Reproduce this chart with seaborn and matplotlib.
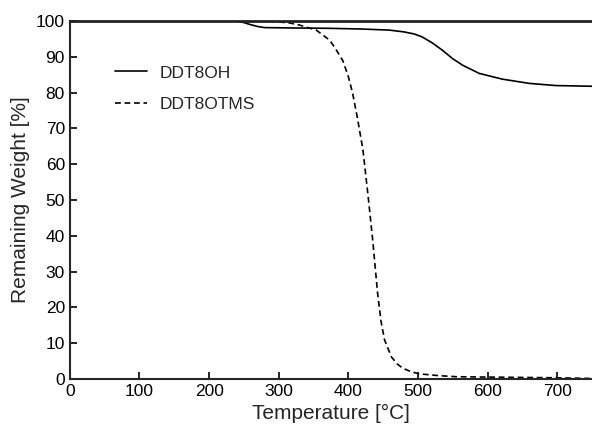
import pandas as pd
import seaborn as sns
import matplotlib.pyplot as plt

# TGA curves
temp_oh = [0, 240, 250, 260, 270, 280, 320, 373, 420, 459, 480, 495, 506, 520,
           535, 550, 564, 588, 621, 660, 698, 750]
weight_oh = [100, 100, 99.6, 99.0, 98.5, 98.2, 98.1, 98.0, 97.8, 97.5, 97.0, 96.4,
             95.6, 94.0, 91.9, 89.5, 87.7, 85.4, 83.8, 82.6, 82.0, 81.8]

temp_otms = [0, 287, 316, 330, 354, 373, 380, 392, 400, 406, 413, 421, 429, 435,
             442, 447, 452, 462, 470, 478, 490, 502, 530, 555, 600, 650, 700, 750]
weight_otms = [100, 100, 99.5, 98.9, 97.5, 94.7, 92.8, 89.0, 84.5, 80.0, 73.0, 64.0,
               50.0, 38.8, 24.0, 16.0, 10.9, 6.1, 4.2, 3.0, 2.0, 1.4, 0.9, 0.6,
               0.5, 0.4, 0.3, 0.1]

samples = ['DDT8OH', 'DDT8OTMS']

df = pd.concat([
    pd.DataFrame({'T': temp_oh, 'w': weight_oh, 'sample': samples[0]}),
    pd.DataFrame({'T': temp_otms, 'w': weight_otms, 'sample': samples[1]}),
], ignore_index=True)

sns.set_style('ticks')
plt.rcParams['font.family'] = ['Liberation Sans', 'DejaVu Sans']

fig = plt.figure(figsize=(5.92, 4.32), dpi=100)
ax = fig.add_axes([0.118, 0.123, 0.882, 0.828])

sns.lineplot(data=df, x='T', y='w', hue='sample', style='sample',
             palette=['black', 'black'], dashes={'DDT8OH': '', 'DDT8OTMS': (3.5, 2.2)},
             linewidth=1.2, sort=False, ax=ax)

ax.set_xlim(0, 750)
ax.set_ylim(0, 100)
ax.set_xticks(range(0, 701, 100))
ax.set_yticks(range(0, 101, 10))
ax.tick_params(direction='in', length=5, width=1.2, labelsize=12.5, colors='black')
ax.set_xlabel('Temperature [°C]', fontsize=15)
ax.set_ylabel('Remaining Weight [%]', fontsize=15)
ax.spines['right'].set_visible(False)
for s in ['left', 'bottom']:
    ax.spines[s].set_linewidth(1.5)
ax.spines['top'].set_linewidth(2)
ax.spines['top'].set_color('#222222')

ax.legend(title=None, frameon=False, loc='upper left', bbox_to_anchor=(0.057, 0.92),
          fontsize=12.5, handlelength=1.85, handletextpad=0.7, labelspacing=0.95)

plt.savefig('out.png', dpi=100)
